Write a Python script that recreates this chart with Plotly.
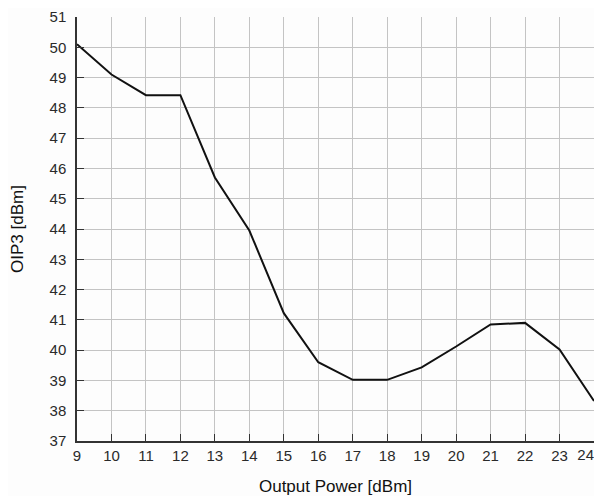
import plotly.graph_objects as go

output_power = [9, 10, 11, 12, 13, 14, 15, 16, 17, 18, 19, 20, 21, 22, 23, 24]
oip3 = [50.1, 49.1, 48.42, 48.42, 45.7, 43.95, 41.22, 39.6, 39.02, 39.02, 39.43, 40.12, 40.85, 40.9, 40.02, 38.32]
x_tick_labels = ["9", "10", "11", "12", "13", "14", "15", "16", "17", "18", "19", "20", "21", "22", "23", "24"]

FONT = "Liberation Sans Narrow, Arial Narrow, Liberation Sans, Arial"

fig = go.Figure()
fig.add_trace(go.Scatter(x=output_power, y=oip3, mode="lines",
                         line=dict(color="#111111", width=2)))
# invisible helper trace so the last x label can be drawn ending at its tick
fig.add_trace(go.Scatter(x=output_power[-1:], y=oip3[-1:], xaxis="x2", mode="none",
                         showlegend=False, hoverinfo="skip"))

axis_common = dict(showgrid=True, gridcolor="#c4c4c4", gridwidth=1,
                   showline=True, linecolor="#333333", linewidth=1.5,
                   ticks="inside", ticklen=7, tickcolor="#333333",
                   tickfont=dict(family=FONT, size=15, color="#2a2a2a"),
                   ticklabeloverflow="allow",
                   zeroline=False, mirror=False, automargin=False)

xr = [output_power[0], output_power[-1]]

fig.update_layout(
    width=594, height=488,
    margin=dict(l=69, r=8, t=9, b=55),
    paper_bgcolor="#fdfdfd", plot_bgcolor="#fdfdfd",
    showlegend=False,
    xaxis=dict(range=xr, tickmode="array", tickvals=output_power,
               ticktext=x_tick_labels[:-1] + [""],
               title=dict(text="Output Power [dBm]", standoff=21,
                          font=dict(family="Liberation Sans, Arial", size=17, color="#111111")),
               **axis_common),
    xaxis2=dict(range=xr, overlaying="x", anchor="y", side="bottom",
                tickmode="array", tickvals=output_power[-1:], ticktext=x_tick_labels[-1:],
                ticklabelposition="outside left", ticklabelstandoff=3,
                ticks="", showgrid=False,
                showline=False, zeroline=False, automargin=False,
                ticklabeloverflow="allow",
                tickfont=dict(family=FONT, size=15, color="#2a2a2a")),
    yaxis=dict(range=[37, 51], dtick=1, tick0=37, ticklabelstandoff=6,
               title=dict(text="OIP3 [dBm]", standoff=24,
                          font=dict(family="Liberation Sans, Arial", size=17, color="#111111")),
               **axis_common),
)

fig.write_html("out.html")
